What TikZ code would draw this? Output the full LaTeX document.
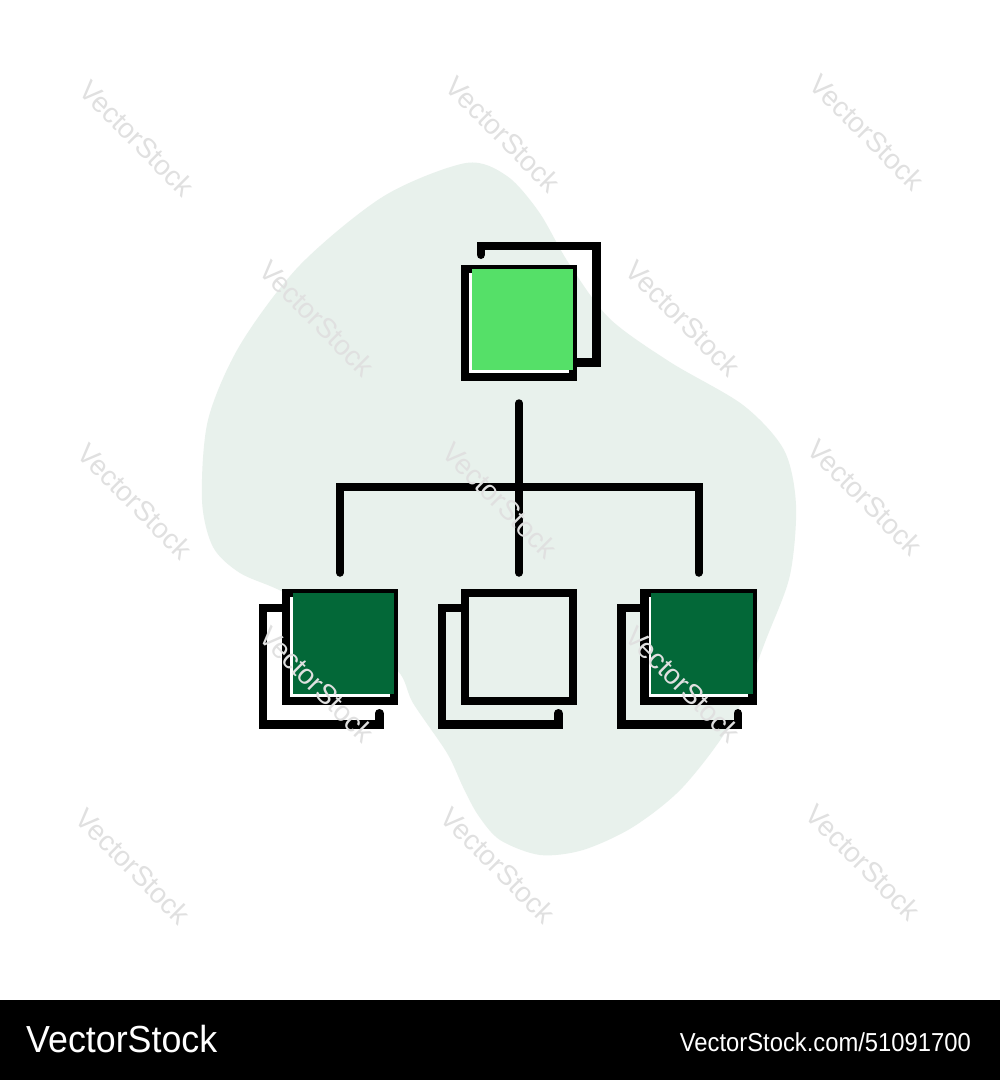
\documentclass[tikz,border=0pt]{standalone}
\usepackage{fontspec}
\setmainfont{Liberation Sans}
\definecolor{blobgrey}{HTML}{E8F1EC}
\definecolor{lightgreen}{HTML}{55E068}
\definecolor{darkgreen}{HTML}{036838}
\definecolor{markgrey}{HTML}{E0E0E0}
\begin{document}
\begin{tikzpicture}
  [x=1pt,y=-1pt,
   box/.style={rectangle,draw=black,line width=8.5pt,minimum size=108pt,inner sep=0pt},
   back/.style={draw=black,line width=8.5pt,line cap=round,line join=miter},
   link/.style={draw=black,line width=8pt,line cap=round,line join=miter,shorten <=16pt,shorten >=16pt},
   wmark/.style={text=markgrey,font=\fontsize{28}{30}\selectfont,rotate=-45,inner sep=0pt}]
  \fill[white] (0,0) rectangle (1000,1080);
  \useasboundingbox (0,0) rectangle (1000,1080);
  \fill[blobgrey] plot[smooth cycle] coordinates {(466,163) (507,176) (539,212) (568,262) (609,318)
    (670,362) (743,405) (784,450) (796,505) (790,575) (767,637) (733,720) (683,787) (633,827)
    (583,850) (540,855) (500,840) (478,815) (463,787) (447,753) (413,703) (397,670) (340,628)
    (283,592) (240,573) (213,547) (202,500) (208,420) (240,345) (300,265) (384,196)};

  \node[box,fill=white] (top) at (519,323) {};
  \node[box,fill=white] (left) at (340,647) {};
  \node[box] (mid) at (519,647) {};
  \node[box,fill=white] (right) at (698.5,647) {};

  \fill[lightgreen] ([shift={(11,4)}]top.north west) rectangle ([shift={(-4,-11)}]top.south east);
  \fill[darkgreen] ([shift={(11,4)}]left.north west) rectangle ([shift={(-4,-11)}]left.south east);
  \fill[darkgreen] ([shift={(11,4)}]right.north west) rectangle ([shift={(-4,-11)}]right.south east);

  \draw[back] ([shift={(20,-10)}]top.north west) -- ++(0,-9) -| ([shift={(19,-19)}]top.south east) -- ([shift={(0,-19)}]top.south east);
  \draw[back] ([shift={(0,19)}]left.north west) -- ++(-19,0) |- ([shift={(-19,19)}]left.south east) -- ++(0,-11);
  \draw[back] ([shift={(0,19)}]mid.north west) -- ++(-19,0) |- ([shift={(-19,19)}]mid.south east) -- ++(0,-11);
  \draw[back] ([shift={(0,19)}]right.north west) -- ++(-19,0) |- ([shift={(-19,19)}]right.south east) -- ++(0,-11);

  \coordinate (hub) at (519,487);
  \draw[link,shorten <=22pt] (top.south) -- (mid.north);
  \draw[link] (left.north) |- (hub) -| (right.north);

  \foreach \wx/\wy in {137/138,503/134,867/132,317/318,683/318,135/501,500/500,865/497,
    317/684,683/684,133/866,498/865,863/862}
    \node[wmark] (wm-\wx-\wy) at (\wx,\wy) {VectorStock};

  \fill[black] (0,1000) rectangle (1000,1080);
  \node[anchor=base west,text=white,font=\fontsize{37.7}{40}\selectfont,xscale=0.95,inner sep=0pt] (brand) at (26,1052) {VectorStock};
  \node[anchor=base east,text=white,font=\fontsize{26}{28}\selectfont,xscale=0.915,inner sep=0pt] (imageid) at (971,1051) {VectorStock.com/51091700};
\end{tikzpicture}
\end{document}
